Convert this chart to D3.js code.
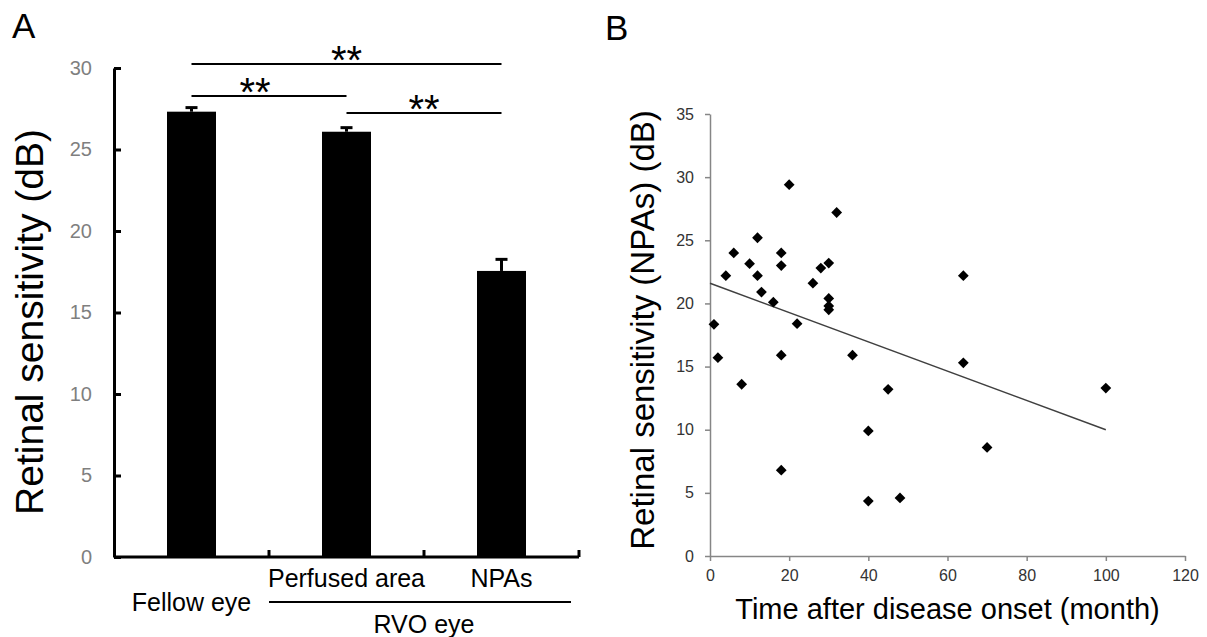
<!DOCTYPE html>
<html>
<head>
<meta charset="utf-8">
<script src="https://cdn.jsdelivr.net/npm/d3@7"></script>
<style>
  body { margin: 0; background: #fff; }
  svg { display: block; }
  text { font-family: "Liberation Sans", Arial, sans-serif; }
</style>
</head>
<body>
<svg id="chart" width="1207" height="637"></svg>
<script>
// panel A: mean retinal sensitivity by group
const groups = ['Fellow eye', 'Perfused area', 'NPAs'];
const meanSens = [27.32, 26.09, 17.55];
const semSens = [0.25, 0.25, 0.71];
const yTicksA = [0, 5, 10, 15, 20, 25, 30];
const sigPairs = [[0, 2], [0, 1], [1, 2]];
const sigMarks = ['**', '**', '**'];

// panel B: sensitivity in NPAs vs months since onset
const months = [1, 2, 4, 6, 8, 10, 12, 12, 13, 16, 18, 18, 18, 18, 20, 22,
                26, 28, 30, 30, 30, 30, 32, 36, 40, 40, 45, 48, 64, 64, 70, 100];
const npaSens = [18.35, 15.7, 22.2, 24.0, 13.6, 23.15, 25.2, 22.2, 20.9, 20.1, 24.0, 23.0, 15.9, 6.8, 29.4, 18.4,
                 21.6, 22.8, 23.2, 20.4, 19.8, 19.5, 27.2, 15.9, 9.9, 4.35, 13.2, 4.6, 22.2, 15.3, 8.6, 13.3];
const trendX = [0, 100];
const trendY = [21.6, 10.0];
const xTicksB = [0, 20, 40, 60, 80, 100, 120];
const yTicksB = [0, 5, 10, 15, 20, 25, 30, 35];

const svg = d3.select('#chart');
const tickFont = '"Liberation Sans Narrow", "Open Sans", sans-serif';

// ---------- panel A ----------
const xA = d3.scaleBand().domain(groups).range([114, 579]).padding(0);
const yA = d3.scaleLinear().domain([0, 30]).range([557, 68]);
const bw = xA.bandwidth();
const barW = 49;
const cx = function(i) { return xA(groups[i]) + bw / 2; };

const gA = svg.append('g');

gA.append('text')
    .attr('x', 12).attr('y', 38)
    .attr('font-size', 35)
    .text('A');

gA.append('g')
    .attr('transform', 'translate(114,0)')
    .call(d3.axisLeft(yA).tickValues(yTicksA).tickSize(-7).tickSizeOuter(0).tickPadding(22))
    .call(function(g) {
        g.attr('font-family', tickFont).attr('font-size', 20);
        g.select('.domain').attr('stroke', '#000').attr('stroke-width', 3);
        g.selectAll('.tick line').attr('stroke', '#000').attr('stroke-width', 3);
        g.selectAll('.tick text').attr('fill', '#7f7f7f');
    });

// x axis with ticks on the category boundaries
gA.append('line')
    .attr('x1', 114).attr('x2', 579)
    .attr('y1', yA(0)).attr('y2', yA(0))
    .attr('stroke', '#000').attr('stroke-width', 3);

gA.selectAll('.xtick')
    .data(groups)
    .enter().append('line')
    .attr('x1', function(d) { return xA(d) + bw; })
    .attr('x2', function(d) { return xA(d) + bw; })
    .attr('y1', yA(0)).attr('y2', yA(0) - 7)
    .attr('stroke', '#000').attr('stroke-width', 3);

gA.selectAll('.bar')
    .data(meanSens)
    .enter().append('rect')
    .attr('x', function(d, i) { return cx(i) - barW / 2; })
    .attr('y', function(d) { return yA(d); })
    .attr('width', barW)
    .attr('height', function(d) { return yA(0) - yA(d); })
    .attr('fill', '#000');

// upper error bars
meanSens.forEach(function(m, i) {
    const top = yA(m + semSens[i]);
    gA.append('line')
        .attr('x1', cx(i)).attr('x2', cx(i))
        .attr('y1', yA(m)).attr('y2', top)
        .attr('stroke', '#000').attr('stroke-width', 3);
    gA.append('line')
        .attr('x1', cx(i) - 6).attr('x2', cx(i) + 6)
        .attr('y1', top).attr('y2', top)
        .attr('stroke', '#000').attr('stroke-width', 3);
});

// significance brackets
const sigY = [64, 96, 113];
const sigShift = [0, -14, 0];
sigPairs.forEach(function(p, k) {
    const x1 = cx(p[0]), x2 = cx(p[1]);
    gA.append('line')
        .attr('x1', x1).attr('x2', x2)
        .attr('y1', sigY[k]).attr('y2', sigY[k])
        .attr('stroke', '#000').attr('stroke-width', 2);
    gA.append('text')
        .attr('x', (x1 + x2) / 2 + sigShift[k])
        .attr('y', sigY[k] + 10)
        .attr('text-anchor', 'middle')
        .attr('font-size', 40)
        .text(sigMarks[k]);
});

// category labels
gA.append('text')
    .attr('x', cx(0)).attr('y', 611)
    .attr('text-anchor', 'middle').attr('font-size', 25)
    .text(groups[0]);

[1, 2].forEach(function(i) {
    gA.append('text')
        .attr('x', cx(i)).attr('y', 587)
        .attr('text-anchor', 'middle').attr('font-size', 25)
        .text(groups[i]);
});

gA.append('line')
    .attr('x1', xA(groups[1])).attr('x2', 571)
    .attr('y1', 602).attr('y2', 602)
    .attr('stroke', '#000').attr('stroke-width', 2);

gA.append('text')
    .attr('x', (cx(1) + cx(2)) / 2).attr('y', 633)
    .attr('text-anchor', 'middle').attr('font-size', 25)
    .text('RVO eye');

gA.append('text')
    .attr('transform', 'translate(43,322) rotate(-90)')
    .attr('text-anchor', 'middle')
    .attr('font-size', 39)
    .text('Retinal sensitivity (dB)');

// ---------- panel B ----------
const xB = d3.scaleLinear().domain([0, 120]).range([710, 1185]);
const yB = d3.scaleLinear().domain([0, 35]).range([556, 114]);
const axisGrey = '#868686';

const gB = svg.append('g');

gB.append('text')
    .attr('x', 605).attr('y', 40)
    .attr('font-size', 35)
    .text('B');

gB.append('g')
    .attr('transform', 'translate(710,0)')
    .call(d3.axisLeft(yB).tickValues(yTicksB).tickSize(5).tickSizeOuter(0).tickPadding(11))
    .call(function(g) {
        g.attr('font-family', '"Open Sans", sans-serif').attr('font-size', 16);
        g.select('.domain').attr('stroke', axisGrey).attr('stroke-width', 1.5);
        g.selectAll('.tick line').attr('stroke', axisGrey).attr('stroke-width', 1.5);
        g.selectAll('.tick text').attr('fill', '#333');
    });

gB.append('g')
    .attr('transform', 'translate(0,556)')
    .call(d3.axisBottom(xB).tickValues(xTicksB).tickSize(5).tickSizeOuter(0).tickPadding(9))
    .call(function(g) {
        g.attr('font-family', '"Open Sans", sans-serif').attr('font-size', 16);
        g.select('.domain').attr('stroke', axisGrey).attr('stroke-width', 1.5);
        g.selectAll('.tick line').attr('stroke', axisGrey).attr('stroke-width', 1.5);
        g.selectAll('.tick text').attr('fill', '#333');
    });

const trend = d3.line()
    .x(function(d) { return xB(d[0]); })
    .y(function(d) { return yB(d[1]); });

gB.append('path')
    .datum(d3.zip(trendX, trendY))
    .attr('d', trend)
    .attr('fill', 'none')
    .attr('stroke', '#404040')
    .attr('stroke-width', 1.5);

const diamond = d3.symbol().type(d3.symbolSquare).size(58);

gB.selectAll('.pt')
    .data(d3.zip(months, npaSens))
    .enter().append('path')
    .attr('d', diamond)
    .attr('transform', function(d) { return 'translate(' + xB(d[0]) + ',' + yB(d[1]) + ') rotate(45)'; })
    .attr('fill', '#000');

gB.append('text')
    .attr('x', (xB(0) + xB(120)) / 2).attr('y', 619)
    .attr('text-anchor', 'middle').attr('font-size', 29)
    .text('Time after disease onset (month)');

gB.append('text')
    .attr('transform', 'translate(654,330) rotate(-90)')
    .attr('text-anchor', 'middle')
    .attr('font-size', 33)
    .text('Retinal sensitivity (NPAs) (dB)');
</script>
</body>
</html>
